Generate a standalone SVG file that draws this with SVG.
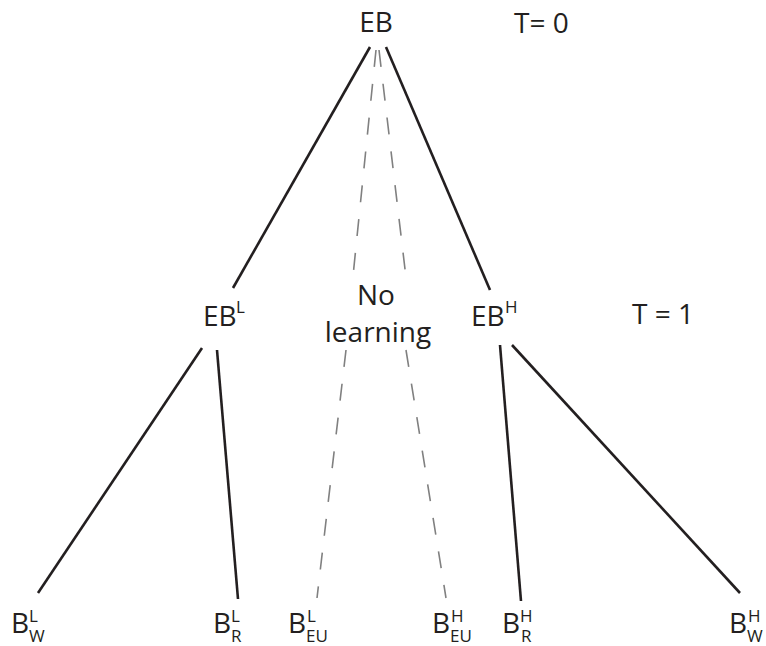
<svg xmlns="http://www.w3.org/2000/svg" width="766" height="646" viewBox="0 0 766 646">
<style>
.t{font-family:"Open Sans","Noto Sans",sans-serif;font-size:28px;fill:#231f20}
.s{font-size:17px}
.solid{stroke:#231f20;stroke-width:2.6;fill:none}
.dash{stroke:#808080;stroke-width:1.6;fill:none;stroke-dasharray:17 17}
</style>
<rect width="766" height="646" fill="#fff"/>
<g id="connectors">
<line class="solid" x1="370" y1="47" x2="233" y2="288"/>
<line class="solid" x1="386" y1="47" x2="490" y2="290"/>
<line class="solid" x1="202" y1="348" x2="38" y2="593"/>
<line class="solid" x1="217" y1="350" x2="238" y2="599"/>
<line class="solid" x1="500" y1="345" x2="521" y2="601"/>
<line class="solid" x1="512" y1="345" x2="740" y2="593"/>
<line class="dash" x1="376" y1="50" x2="352" y2="286"/>
<line class="dash" x1="379" y1="50" x2="407" y2="286"/>
<line class="dash" x1="346" y1="350" x2="317" y2="598"/>
<line class="dash" x1="406" y1="350" x2="446" y2="598"/>
</g>
<g id="EB"><text class="t" x="376" y="32" text-anchor="middle">EB</text></g>
<g id="T0"><text class="t" x="514" y="33">T= 0</text></g>
<g id="EBL"><text class="t" x="203" y="326">EB<tspan class="s" x="236" y="313">L</tspan></text></g>
<g id="nolearning"><text class="t" x="376" y="305" text-anchor="middle">No</text><text class="t" x="378" y="342" text-anchor="middle">learning</text></g>
<g id="EBH"><text class="t" x="471" y="326">EB<tspan class="s" x="505" y="313">H</tspan></text></g>
<g id="T1"><text class="t" x="632" y="324">T = 1</text></g>
<g id="BWL"><text class="t" x="11" y="633">B<tspan class="s" x="29" y="622">L</tspan><tspan class="s" x="29" y="642">W</tspan></text></g>
<g id="BRL"><text class="t" x="213" y="633">B<tspan class="s" x="231" y="622">L</tspan><tspan class="s" x="231" y="642">R</tspan></text></g>
<g id="BEUL"><text class="t" x="288" y="633">B<tspan class="s" x="307" y="622">L</tspan><tspan class="s" x="306" y="642">EU</tspan></text></g>
<g id="BEUH"><text class="t" x="432" y="633">B<tspan class="s" x="451" y="622">H</tspan><tspan class="s" x="450" y="642">EU</tspan></text></g>
<g id="BRH"><text class="t" x="502" y="633">B<tspan class="s" x="520" y="622">H</tspan><tspan class="s" x="521" y="642">R</tspan></text></g>
<g id="BWH"><text class="t" x="729" y="633">B<tspan class="s" x="748" y="622">H</tspan><tspan class="s" x="747" y="642">W</tspan></text></g>
</svg>
